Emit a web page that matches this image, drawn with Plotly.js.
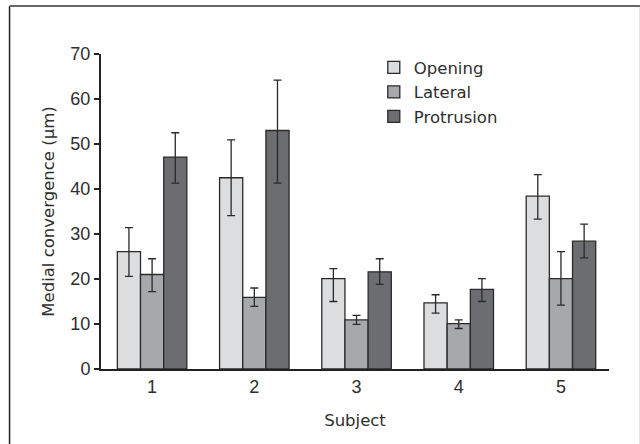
<!DOCTYPE html>
<html>
<head>
<meta charset="utf-8">
<script src="https://cdn.plot.ly/plotly-3.0.1.min.js"></script>
<style>
html,body{margin:0;padding:0;background:#fff;}
#chart{width:640px;height:444px;}
</style>
</head>
<body>
<div id="chart"></div>
<script>
const subjects = ['1', '2', '3', '4', '5'];
const opening = [26.1, 42.5, 20.1, 14.7, 38.4];
const openingErrPlus = [5.3, 8.4, 2.2, 1.8, 4.8];
const openingErrMinus = [5.5, 8.4, 5.1, 2.3, 5.1];
const lateral = [21.0, 15.9, 10.9, 10.1, 20.1];
const lateralErrPlus = [3.5, 2.1, 1.0, 0.8, 6.0];
const lateralErrMinus = [3.8, 2.0, 1.0, 1.1, 5.9];
const protrusion = [47.1, 53.0, 21.6, 17.7, 28.4];
const protrusionErrPlus = [5.4, 11.2, 2.9, 2.4, 3.8];
const protrusionErrMinus = [5.8, 11.7, 2.8, 2.7, 3.7];

const seriesNames = ['Opening', 'Lateral', 'Protrusion'];
const seriesColors = ['#dcdddf', '#a7a8ab', '#6c6d70'];

function mk(name, vals, ep, em, color) {
  return {
    type: 'bar', name: name, x: subjects, y: vals,
    marker: {color: color, line: {color: '#2a2a2a', width: 1.3}},
    error_y: {type: 'data', symmetric: false, array: ep, arrayminus: em,
              color: '#2a2a2a', thickness: 1.3, width: 4},
  };
}

const data = [
  mk(seriesNames[0], opening, openingErrPlus, openingErrMinus, seriesColors[0]),
  mk(seriesNames[1], lateral, lateralErrPlus, lateralErrMinus, seriesColors[1]),
  mk(seriesNames[2], protrusion, protrusionErrPlus, protrusionErrMinus, seriesColors[2]),
];

const font = 'DejaVu Sans, sans-serif';
const tickFontFam = 'Liberation Sans, Arial, sans-serif';
const layout = {
  width: 640, height: 444,
  margin: {l: 101, r: 31, t: 54, b: 75, pad: 0},
  paper_bgcolor: '#fff', plot_bgcolor: '#fff',
  barmode: 'group', bargap: 0.32, bargroupgap: 0,
  font: {family: font, color: '#2e2e2e', size: 16},
  showlegend: true,
  legend: {x: 0.537, y: 1.012, xanchor: 'left', yanchor: 'top',
           font: {family: font, size: 16.5, color: '#2e2e2e'},
           bgcolor: 'rgba(0,0,0,0)', tracegroupgap: 0},
  xaxis: {
    type: 'category', range: [-0.5, 4.47],
    showline: true, linecolor: '#222', linewidth: 2,
    ticks: '', showgrid: false, zeroline: false,
    tickfont: {family: tickFontFam, size: 18, color: '#2e2e2e'},
    title: {text: 'Subject', font: {family: font, size: 16.5, color: '#2e2e2e'}, standoff: 19},
  },
  yaxis: {
    range: [0, 70], dtick: 10,
    showline: true, linecolor: '#222', linewidth: 2,
    ticks: 'outside', ticklen: 5, tickwidth: 1.5, tickcolor: '#222',
    showgrid: false, zeroline: false,
    tickfont: {family: tickFontFam, size: 18, color: '#2e2e2e'},
    title: {text: 'Medial convergence (µm)', font: {family: font, size: 16.5, color: '#2e2e2e'}, standoff: 12},
  },
  shapes: [
    {type: 'line', xref: 'paper', yref: 'paper', x0: -0.18, x1: -0.18, y0: 1.152, y1: -0.25,
     line: {color: '#222', width: 1.5}},
    {type: 'line', xref: 'paper', yref: 'paper', x0: -0.18, x1: 1.062, y0: 1.152, y1: 1.152,
     line: {color: '#666', width: 2}},
    {type: 'line', xref: 'paper', yref: 'paper', x0: 1.062, x1: 1.062, y0: 1.152, y1: -0.25,
     line: {color: '#999', width: 1.5}},
  ],
};

Plotly.newPlot('chart', data, layout, {displayModeBar: false, staticPlot: true});
</script>
</body>
</html>
